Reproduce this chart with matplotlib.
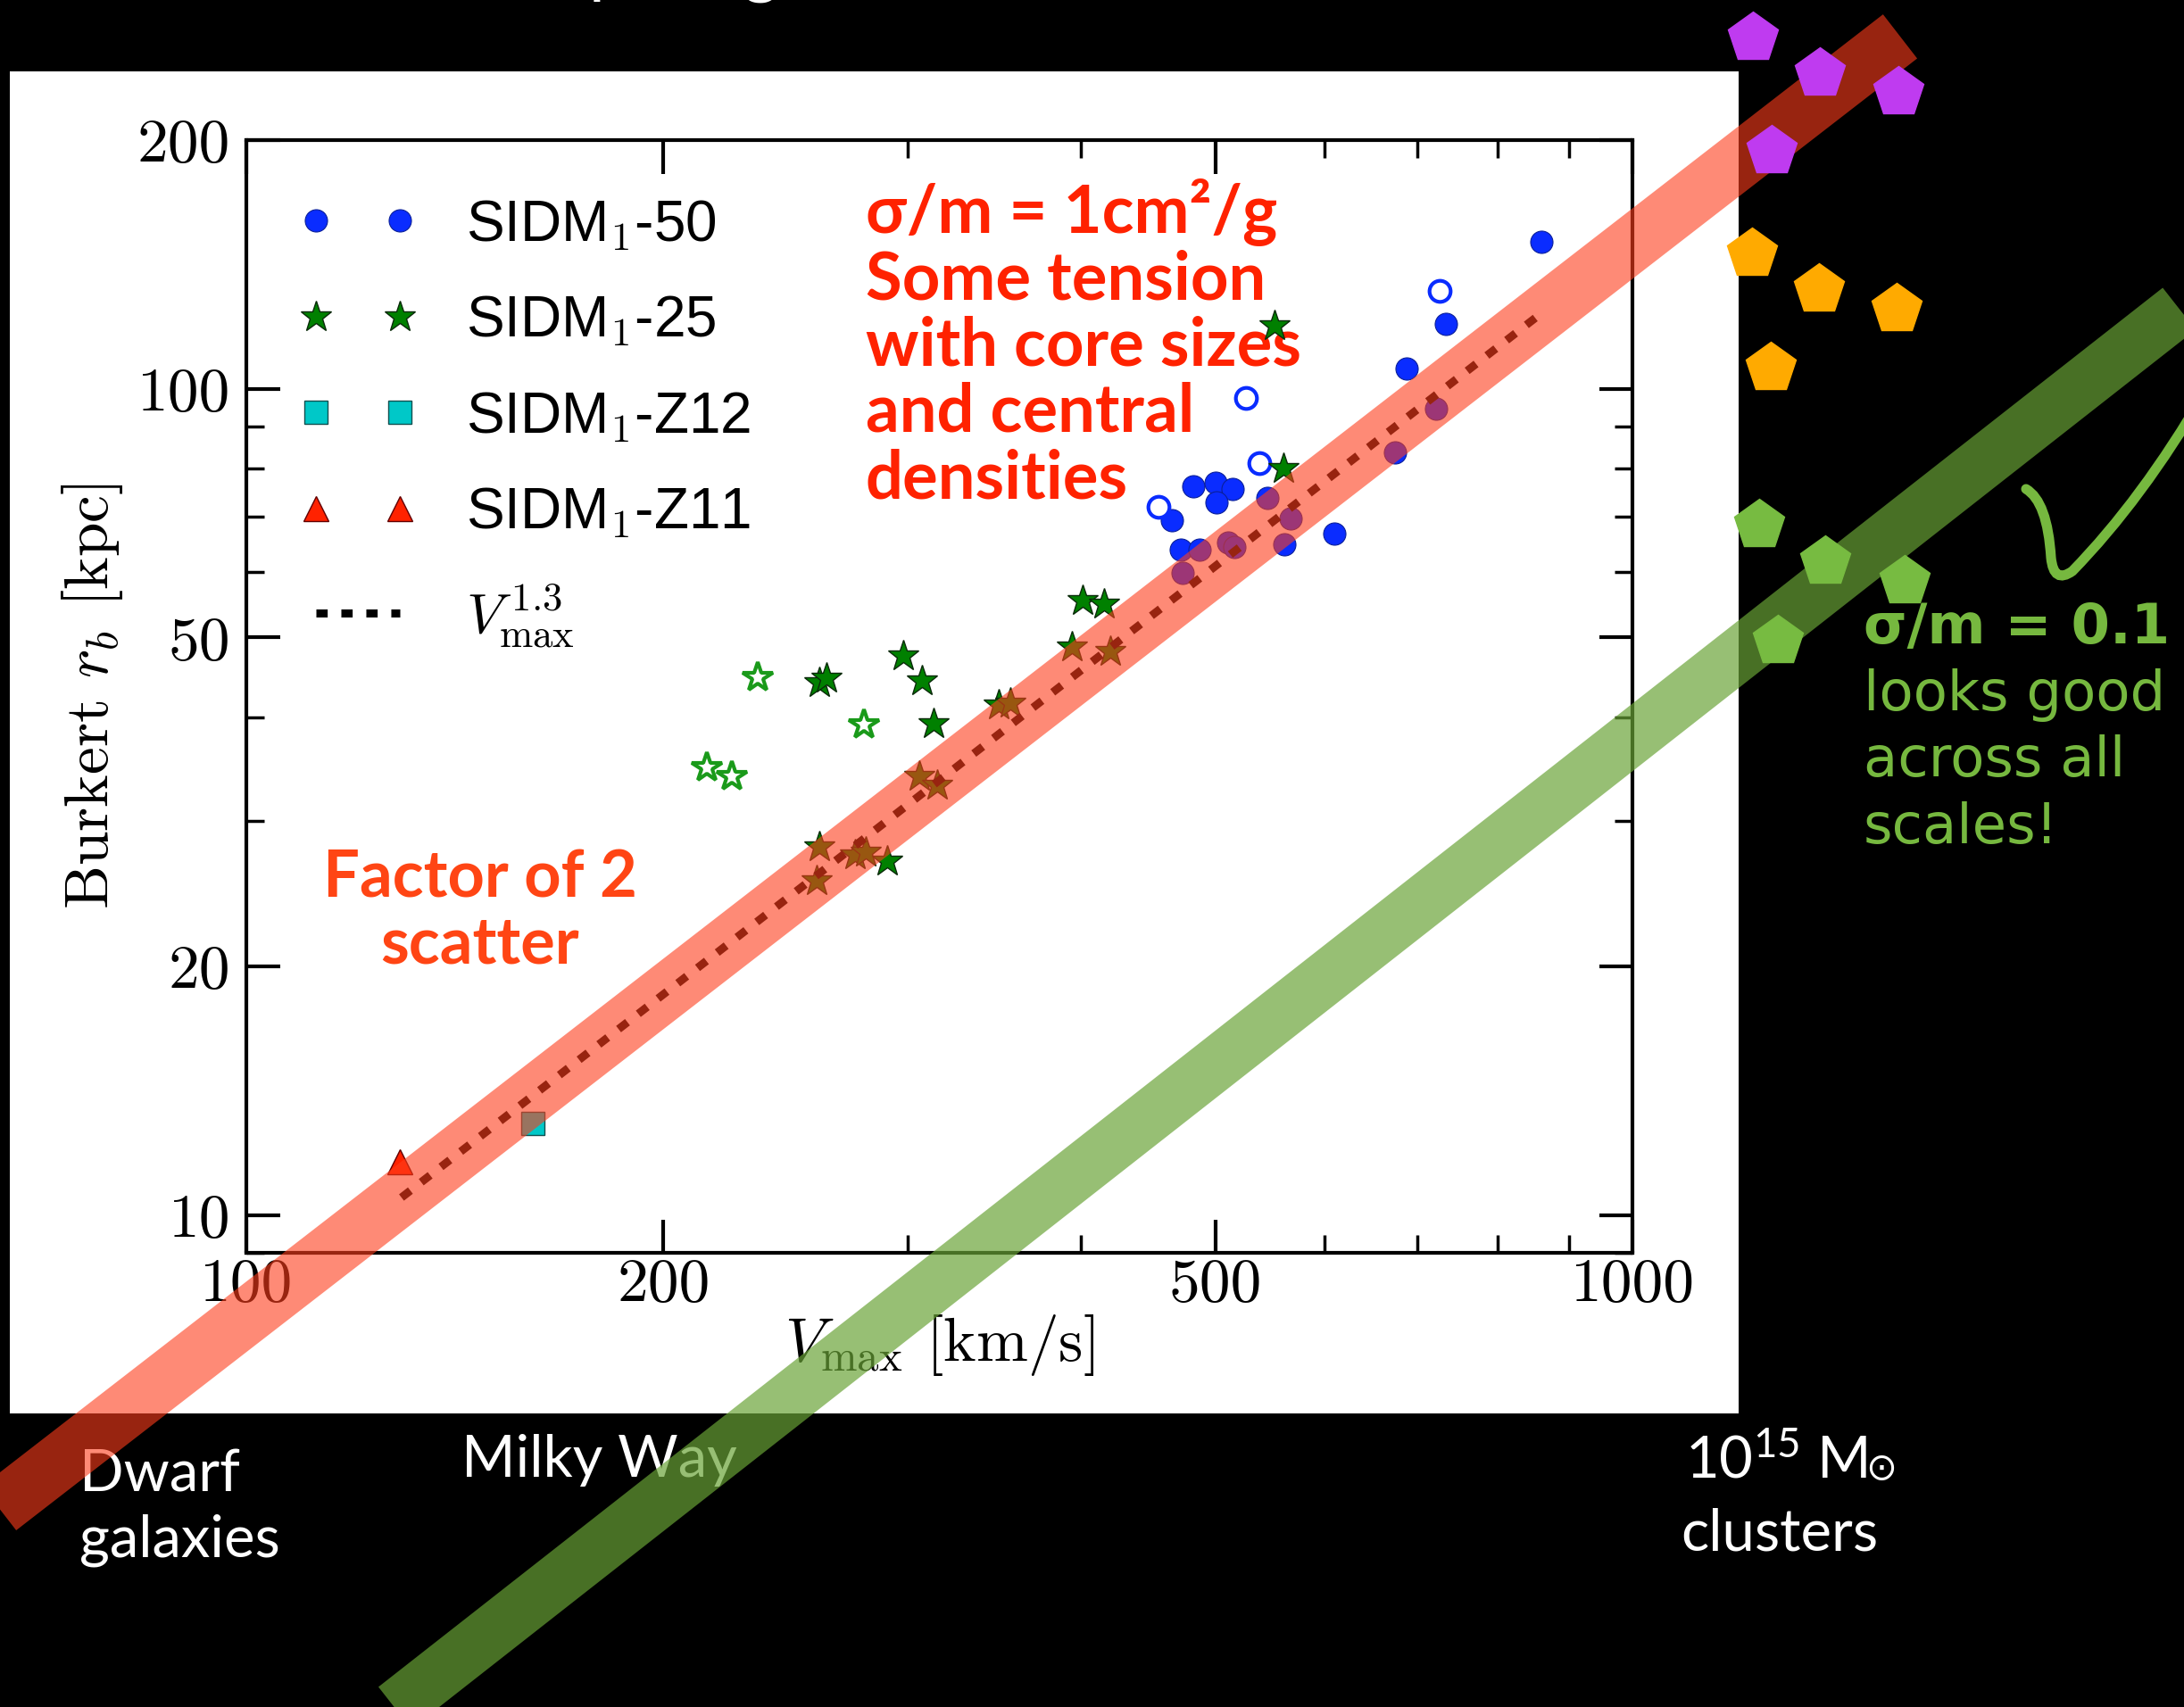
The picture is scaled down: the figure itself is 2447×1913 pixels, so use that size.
import matplotlib
matplotlib.use("Agg")
import matplotlib.pyplot as plt
from matplotlib.patches import Rectangle, PathPatch
from matplotlib.path import Path
from matplotlib.ticker import LogLocator, NullFormatter

W, H = 2447, 1913

# values: Vmax [km/s], Burkert r_b [kpc]
sidm50_v = [860, 733, 687, 722, 674, 482, 500, 515, 501, 545, 567, 465, 609, 561, 472, 487, 511, 516, 474]
sidm50_r = [150.8, 119.9, 105.7, 94.6, 83.8, 76.2, 76.9, 75.6, 72.8, 73.7, 69.6, 69.3, 66.8, 64.8, 63.8, 63.8, 65.1, 64.3, 59.9]
sidm50_open_v = [726, 526, 538, 455]
sidm50_open_r = [131.3, 97.5, 81.2, 71.9]

sidm25_v = [552, 560, 401, 416, 394, 420, 298, 307, 259, 262, 313, 349, 356, 306, 315, 259, 275, 280, 290, 258]
sidm25_r = [119.2, 80.1, 55.4, 54.9, 48.7, 48.1, 47.5, 44.3, 44.1, 44.6, 39.3, 41.4, 41.6, 34.0, 33.1, 27.9, 27.3, 27.5, 26.8, 25.4]
sidm25_open_v = [234, 279, 215, 224]
sidm25_open_r = [44.8, 39.2, 34.8, 34.0]

z12_v = [161]
z12_r = [12.9]
z11_v = [129]
z11_r = [11.6]

# V_max^1.3 line and the two slide bands (end points)
fit_v = [129.4, 853]
fit_r = [10.5, 122.2]
red_band_v = [40, 1560]
red_band_r = [2.29, 267]
green_band_v = [100, 2480]
green_band_r = [1.83, 125]

# cluster pentagons drawn on the slide
purple_v = [1222, 1366, 1556, 1261]
purple_r = [266, 241, 229, 194]
orange_v = [1220, 1363, 1552, 1259]
orange_r = [146, 132, 125, 106]
green_v = [1234, 1378, 1571, 1274]
green_r = [68.4, 61.8, 58.6, 49.6]

legend_labels = ["SIDM$_1$-50", "SIDM$_1$-25", "SIDM$_1$-Z12", "SIDM$_1$-Z11", r"$V_{\rm max}^{\,1.3}$"]
x_ticks = [100, 200, 500, 1000]
y_ticks = [10, 20, 50, 100, 200]


def fx(px):
    return px / W


def fy(py):
    return 1 - py / H


plt.rcParams["font.family"] = "cmr10"
plt.rcParams["mathtext.fontset"] = "cm"
plt.rcParams["axes.unicode_minus"] = False
plt.rcParams["mathtext.rm"] = "Lato"
plt.rcParams["mathtext.it"] = "Lato:italic"
plt.rcParams["mathtext.bf"] = "Lato:bold"

fig = plt.figure(figsize=(W / 100, H / 100), dpi=100, facecolor="black")
fig.add_artist(Rectangle((fx(11), fy(1584)), fx(1948 - 11), (1584 - 80) / H,
                         transform=fig.transFigure, facecolor="white", edgecolor="none", zorder=-5))

ax = fig.add_axes([fx(276), fy(1404), 1553 / W, 1247 / H])

# data points
h50, = ax.plot(sidm50_v, sidm50_r, "o", ms=18, mfc="#0a2cff", mec="#0a1f99", mew=0.8, ls="none", zorder=3)
ax.plot(sidm50_open_v, sidm50_open_r, "o", ms=17, mfc="white", mec="#0a2cff", mew=3, ls="none", zorder=3)
h25, = ax.plot(sidm25_v, sidm25_r, "*", ms=26, mfc="#008000", mec="#0a2a0a", mew=1, ls="none", zorder=3)
ax.plot(sidm25_open_v, sidm25_open_r, "*", ms=25, mfc="white", mec="#1a9a1a", mew=3, ls="none", zorder=3)
hz12, = ax.plot(z12_v, z12_r, "s", ms=19, mfc="#00c8c8", mec="#105050", mew=1, ls="none", zorder=3)
hz11, = ax.plot(z11_v, z11_r, "^", ms=20, mfc="#ff2200", mec="#600000", mew=1, ls="none", zorder=3)
hfit, = ax.plot(fit_v, fit_r, ls=(0, (1.4, 1.7)), color="black", lw=6.5, zorder=4)

# slide overlays
ax.plot(red_band_v, red_band_r, color="#fe3d1b", alpha=0.6, lw=45, solid_capstyle="butt",
        clip_on=False, zorder=6)
ax.plot(green_band_v, green_band_r, color="#69a336", alpha=0.69, lw=43, solid_capstyle="butt",
        clip_on=False, zorder=7)
ax.plot(purple_v, purple_r, "p", ms=42, color="#bf3bf0", ls="none", clip_on=False, zorder=8)
ax.plot(orange_v, orange_r, "p", ms=42, color="#ffaa00", ls="none", clip_on=False, zorder=8)
ax.plot(green_v, green_r, "p", ms=42, color="#77bb41", ls="none", clip_on=False, zorder=8)

# check mark
pts = [(2270, 548), (2294, 562), (2298, 625), (2301, 655), (2322, 640), (2400, 560), (2470, 440)]
codes = [Path.MOVETO] + [Path.CURVE3] * 6
check = PathPatch(Path([(fx(x), fy(y)) for x, y in pts], codes), fill=False, edgecolor="#76b83f",
                  lw=8, capstyle="round", transform=fig.transFigure, clip_on=False, zorder=8)
ax.add_patch(check)

# axes
ax.set_xscale("log")
ax.set_yscale("log")
ax.set_xticks(x_ticks)
ax.set_xticklabels([str(t) for t in x_ticks])
ax.set_yticks(y_ticks)
ax.set_yticklabels([str(t) for t in y_ticks])
ax.xaxis.set_minor_locator(LogLocator(base=10, subs=range(2, 10)))
ax.yaxis.set_minor_locator(LogLocator(base=10, subs=range(2, 10)))
ax.xaxis.set_minor_formatter(NullFormatter())
ax.yaxis.set_minor_formatter(NullFormatter())
ax.set_xlim(100, 1000)
ax.set_ylim(9, 200)
ax.tick_params(which="both", direction="in", top=True, right=True, colors="black")
ax.tick_params(which="major", length=27, width=3, labelsize=50)
ax.tick_params(which="minor", length=14.5, width=2.5)
ax.tick_params(axis="x", pad=4)
ax.tick_params(axis="y", pad=13)
for s in ax.spines.values():
    s.set_linewidth(3)
ax.set_xlabel(r"$V_{\rm max}$ [km/s]", fontsize=50, labelpad=0)
ax.set_ylabel(r"Burkert $r_b$ [kpc]", fontsize=50, labelpad=10)

ax.legend([h50, h25, hz12, hz11, hfit], legend_labels, loc="upper left",
          bbox_to_anchor=(0.038, 0.948), frameon=False, numpoints=2, handlelength=2.07,
          handletextpad=0.86, borderpad=0, borderaxespad=0, labelspacing=0.73,
          prop={"family": "Liberation Sans", "size": 46})

# slide texts
txt = dict(transform=fig.transFigure, clip_on=False, va="baseline")
ax.text(fx(500), fy(-12), "Comparing", color="white", family="Lato", fontsize=56, zorder=5, **txt)
ax.text(fx(89), fy(1672), "Dwarf", color="white", family="Lato", fontsize=47, zorder=5, **txt)
ax.text(fx(89), fy(1745), "galaxies", color="white", family="Lato", fontsize=47, zorder=5, **txt)
ax.text(fx(517), fy(1655), "Milky Way", color="white", family="Lato", fontsize=47, zorder=5, **txt)
ax.text(fx(1888), fy(1656), r"10$^{15}$ M", color="white", family="Lato", fontsize=47,
        math_fontfamily="custom", zorder=5, **txt)
ax.text(fx(2090), fy(1646), "⊙", color="white", family="DejaVu Sans", fontsize=30, va="center",
        transform=fig.transFigure, clip_on=False, zorder=5)
ax.text(fx(1883), fy(1738), "clusters", color="white", family="Lato", fontsize=47, zorder=5, **txt)

red_lines = ["σ/m = 1cm²/g", "Some tension", "with core sizes", "and central", "densities"]
for i, line in enumerate(red_lines):
    ax.text(fx(970), fy(261 + 74.3 * i), line, color="#ff2200", family="Lato", weight="bold",
            fontsize=53.5, zorder=2, **txt)

ax.text(fx(538), fy(1005), "Factor of 2", color="#ff4514", family="Lato", weight="bold",
        fontsize=52, ha="center", zorder=2, **txt)
ax.text(fx(538), fy(1080), "scatter", color="#ff4514", family="Lato", weight="bold",
        fontsize=52, ha="center", zorder=2, **txt)

green_lines = ["σ/m = 0.1", "looks good", "across all", "scales!"]
for i, line in enumerate(green_lines):
    ax.text(fx(2088), fy(721 + 74.5 * i), line, color="#76b83f", family="DejaVu Sans",
            weight="bold" if i == 0 else "normal", fontsize=45, zorder=9, **txt)

fig.savefig("out.png", dpi=100, facecolor="black")
